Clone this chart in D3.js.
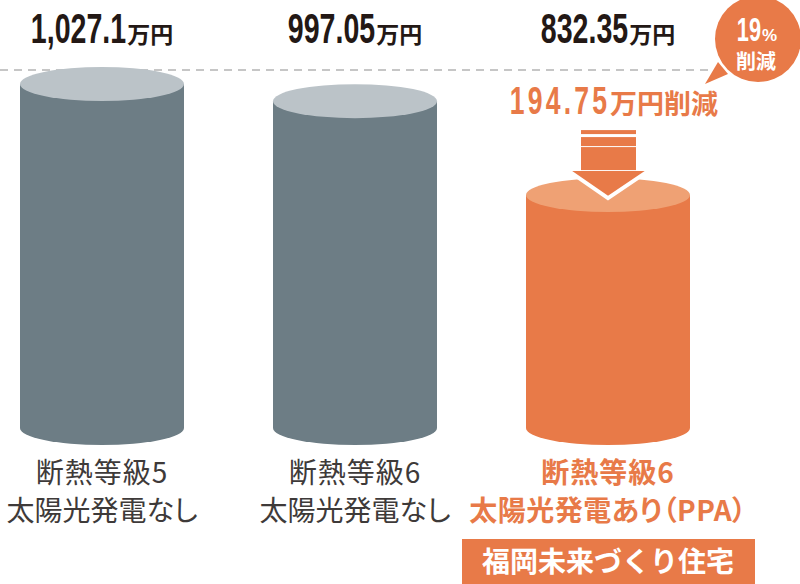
<!DOCTYPE html>
<html>
<head>
<meta charset="utf-8">
<script src="https://cdn.jsdelivr.net/npm/d3@7"></script>
<style>
  html, body { margin: 0; padding: 0; background: #fff; }
  svg { display: block; }
</style>
</head>
<body>
<div id="chart"></div>
<script>
// ── データ ──────────────────────────────────────────
const categories = ['A', 'B', 'C'];
const values     = [1027.1, 997.05, 832.35];
const labelLine1 = ['断熱等級5', '断熱等級6', '断熱等級6'];
const labelLine2 = ['太陽光発電なし', '太陽光発電なし', '太陽光発電あり（PPA）'];
const isOurs     = [false, false, true];
const unitText   = '万円';
const tagText    = '福岡未来づくり住宅';

const W = 800, H = 584;
const NARROW = '"Liberation Sans", Arial, sans-serif';
const CJK    = '"Noto Sans CJK JP", "Noto Sans", sans-serif';
const DARK   = '#231815', GREYTXT = '#3e3a39';
const ORANGE = '#e87a48', ORANGE_TOP = '#efa174';
const GREY   = '#6d7d85', GREY_TOP = '#bbc3c8';

const svg = d3.select('#chart').append('svg').attr('width', W).attr('height', H);

// ── スケール ──
const x = d3.scalePoint().domain(categories).range([102, 608]);
const y = d3.scaleLinear().domain([424, 1027.1]).range([428, 84]);
const base = y(424);
const RX = 82, RY = 17;

// 点線
svg.append('line')
  .attr('x1', 0).attr('x2', 714).attr('y1', 70).attr('y2', 70)
  .attr('stroke', '#b4b4b4').attr('stroke-width', 1.5)
  .attr('stroke-dasharray', '8 6');

// ── 円柱 ──
const bars = svg.append('g').selectAll('g.bar')
  .data(categories.map((c, i) => ({ c, v: values[i], ours: isOurs[i] })))
  .enter().append('g').attr('class', 'bar');

bars.append('path')
  .attr('fill', d => d.ours ? ORANGE : GREY)
  .attr('d', d => {
    const cx = x(d.c), top = y(d.v);
    return `M${cx - RX},${top} L${cx - RX},${base} A${RX},${RY} 0 0 0 ${cx + RX},${base} L${cx + RX},${top} Z`;
  });
bars.append('ellipse')
  .attr('cx', d => x(d.c)).attr('cy', d => y(d.v))
  .attr('rx', RX).attr('ry', RY)
  .attr('fill', d => d.ours ? ORANGE_TOP : GREY_TOP);

// ── 数値ラベル（長体の数字＋単位）──
function numLabel(g, cx, baseY, numStr, unitStr, o) {
  const grp = g.append('g');
  const num = grp.append('text')
    .attr('font-family', NARROW).attr('font-weight', 700)
    .attr('font-size', o.numSize).attr('letter-spacing', o.ls || 0)
    .attr('fill', o.fill).text(numStr);
  const nw = num.node().getComputedTextLength() * o.sx;
  num.attr('transform', `scale(${o.sx},1)`);
  const unit = grp.append('text')
    .attr('x', nw + (o.gap || 0))
    .attr('font-family', o.unitFont || CJK).attr('font-weight', 700)
    .attr('font-size', o.unitSize).attr('fill', o.fill).text(unitStr);
  const uw = unit.node().getComputedTextLength();
  grp.attr('transform', `translate(${cx - (nw + (o.gap || 0) + uw) / 2},${baseY})`);
  return grp;
}

const fmt = d3.format(',');
values.forEach((v, i) => {
  numLabel(svg, x(categories[i]), 43, fmt(v), unitText,
    { numSize: 42, sx: 0.68, unitSize: 23, gap: 1, fill: DARK });
});

// ── 削減額と矢印 ──
const diff = +(values[0] - values[2]).toFixed(2);
const pct  = Math.round(diff / values[0] * 100);
const cx3  = x(categories[2]);
const top3 = y(values[2]);

numLabel(svg, 614, 114, String(diff), unitText + '削減',
  { numSize: 38, sx: 0.7, ls: 4.5, unitSize: 27, gap: 0, fill: ORANGE });

const tip = top3 + 3;
const arrow = svg.append('g').attr('fill', ORANGE);
arrow.append('path')
  .attr('d', `M${cx3 - 42},${tip - 29} L${cx3 + 43},${tip - 29} L${cx3},${tip} Z`)
  .attr('stroke', '#fff').attr('stroke-width', 4).attr('stroke-linejoin', 'miter');
arrow.append('rect').attr('x', cx3 - 27).attr('width', 55).attr('y', tip - 51).attr('height', 23);
arrow.append('rect').attr('x', cx3 - 27).attr('width', 55).attr('y', tip - 61).attr('height', 9);
arrow.append('rect').attr('x', cx3 - 27).attr('width', 55).attr('y', tip - 68).attr('height', 4);

// ── 吹き出し ──
const bub = svg.append('g');
bub.append('path')
  .attr('fill', ORANGE)
  .attr('d', 'M718,62 L705,84 L728,74 Z');
bub.append('circle').attr('cx', 758).attr('cy', 39).attr('r', 43).attr('fill', ORANGE);
numLabel(bub, 757, 41, String(pct), '%',
  { numSize: 33, sx: 0.66, unitSize: 17, gap: 1, fill: '#fff', unitFont: NARROW });
bub.append('text')
  .attr('x', 756).attr('y', 69).attr('text-anchor', 'middle')
  .attr('font-family', CJK).attr('font-weight', 700).attr('font-size', 20)
  .attr('fill', '#fff').text('削減');

// ── カテゴリラベル ──
const lab = svg.append('g').attr('font-family', CJK).attr('text-anchor', 'middle');
categories.forEach((c, i) => {
  const col = isOurs[i] ? ORANGE : GREYTXT;
  const wt  = isOurs[i] ? 700 : 400;
  lab.append('text').attr('x', x(c)).attr('y', 483)
    .attr('letter-spacing', 1)
    .attr('font-size', 28).attr('font-weight', wt).attr('fill', col).text(labelLine1[i]);
  lab.append('text').attr('x', x(c)).attr('y', 521)
    .style('font-feature-settings', '"palt"')
    .attr('letter-spacing', isOurs[i] ? 0.5 : 0)
    .attr('font-size', 28).attr('font-weight', wt).attr('fill', col).text(labelLine2[i]);
});

// 住宅タグ
svg.append('rect').attr('x', 462).attr('y', 539).attr('width', 293).attr('height', 45).attr('fill', ORANGE);
svg.append('text')
  .attr('x', 608).attr('y', 572).attr('text-anchor', 'middle')
  .attr('font-family', CJK).attr('font-weight', 700).attr('font-size', 28)
  .attr('fill', '#fff').text(tagText);
</script>
</body>
</html>
